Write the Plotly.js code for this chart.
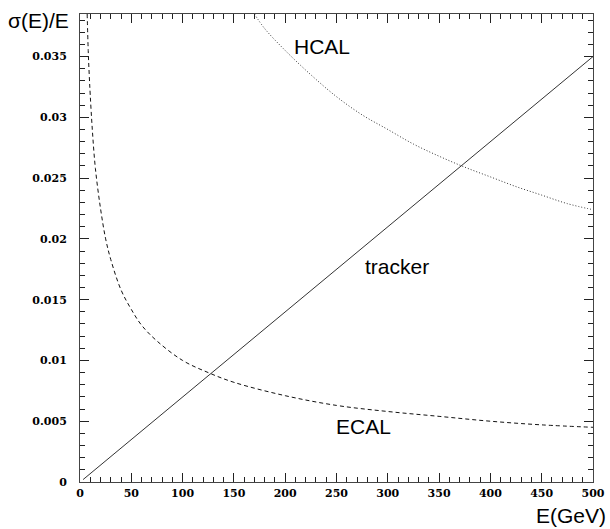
<!DOCTYPE html>
<html>
<head>
<meta charset="utf-8">
<script src="https://cdn.plot.ly/plotly-3.0.1.min.js"></script>
<style>html,body{margin:0;padding:0;background:#fff;}#chart{width:610px;height:529px;}</style>
</head>
<body>
<div id="chart"></div>
<script>
// Tracker resolution (solid line)
var trackerE = [3, 500];
var trackerRes = [0.0002, 0.035];

// ECAL resolution (dashed line)
var ecalE = [7, 8, 9, 10, 12, 15, 20, 25, 30, 40, 50, 60, 75, 100, 125, 150, 200, 250, 300, 350, 400, 450, 500];
var ecalRes = [0.0385, 0.0355, 0.0335, 0.0318, 0.029, 0.0258, 0.0225, 0.02, 0.0183, 0.0158, 0.0142, 0.0129, 0.0116, 0.01, 0.009, 0.0082, 0.0071, 0.0063, 0.0058, 0.0054, 0.005, 0.0047, 0.0045];

// HCAL resolution (dotted line)
var hcalE = [170, 180, 200, 225, 250, 275, 300, 325, 350, 375, 400, 425, 450, 475, 500];
var hcalRes = [0.0385, 0.0373, 0.0355, 0.0335, 0.0317, 0.0302, 0.029, 0.0278, 0.0268, 0.0259, 0.0251, 0.0243, 0.0236, 0.0229, 0.0224];

// Tick labels
var xTickVals = [0, 50, 100, 150, 200, 250, 300, 350, 400, 450, 500];
var xTickText = ["0", "50", "100", "150", "200", "250", "300", "350", "400", "450", "500"];
var yTickVals = [0, 0.005, 0.01, 0.015, 0.02, 0.025, 0.03, 0.035];
var yTickText = ["0", "0.005", "0.01", "0.015", "0.02", "0.025", "0.03", "0.035"];

var traces = [
  {x: trackerE, y: trackerRes, mode: 'lines', line: {color: '#333', width: 1}, hoverinfo: 'skip'},
  {x: ecalE, y: ecalRes, mode: 'lines', line: {color: '#111', width: 1, dash: '4px,3px', shape: 'spline'}, hoverinfo: 'skip'},
  {x: hcalE, y: hcalRes, mode: 'lines', line: {color: '#333', width: 1, dash: '1px,2px', shape: 'spline'}, hoverinfo: 'skip'}
];

var tickFont = {family: 'DejaVu Serif', size: 11, color: '#000', weight: 'bold'};
var labelFont = {family: 'Liberation Sans, Arial, sans-serif', size: 21, color: '#000'};

var axisCommon = {
  showgrid: false, zeroline: false, showline: true, linecolor: '#444', linewidth: 1,
  mirror: 'allticks', ticks: 'inside', ticklen: 9, tickcolor: '#222', tickwidth: 1,
  tickmode: 'array', tickfont: tickFont
};

var layout = {
  width: 610, height: 529,
  margin: {l: 80, r: 17, t: 14, b: 47},
  paper_bgcolor: '#fff', plot_bgcolor: '#fff',
  showlegend: false,
  xaxis: Object.assign({}, axisCommon, {
    range: [0, 500], tickvals: xTickVals, ticktext: xTickText,
    minor: {dtick: 10, ticks: 'inside', ticklen: 5, tickcolor: '#222', tickwidth: 1, showgrid: false},
    ticklabelstandoff: 1
  }),
  yaxis: Object.assign({}, axisCommon, {
    range: [0, 0.0385], tickvals: yTickVals, ticktext: yTickText,
    minor: {dtick: 0.001, ticks: 'inside', ticklen: 5, tickcolor: '#222', tickwidth: 1, showgrid: false},
    ticklabelstandoff: 10
  }),
  annotations: [
    {text: 'σ(E)/E', xref: 'paper', yref: 'paper', x: -0.0175, y: 0.987, xanchor: 'right', yanchor: 'middle', showarrow: false, font: labelFont},
    {text: 'E(GeV)', xref: 'paper', yref: 'paper', x: 1.029, y: -0.071, xanchor: 'right', yanchor: 'middle', showarrow: false, font: labelFont},
    {text: 'HCAL', xref: 'x', yref: 'y', x: 236, y: 0.0358, xanchor: 'center', yanchor: 'middle', showarrow: false, font: labelFont},
    {text: 'tracker', xref: 'x', yref: 'y', x: 309, y: 0.0177, xanchor: 'center', yanchor: 'middle', showarrow: false, font: labelFont},
    {text: 'ECAL', xref: 'x', yref: 'y', x: 276, y: 0.00453, xanchor: 'center', yanchor: 'middle', showarrow: false, font: labelFont}
  ]
};

Plotly.newPlot('chart', traces, layout, {staticPlot: true, displayModeBar: false});
</script>
</body>
</html>
